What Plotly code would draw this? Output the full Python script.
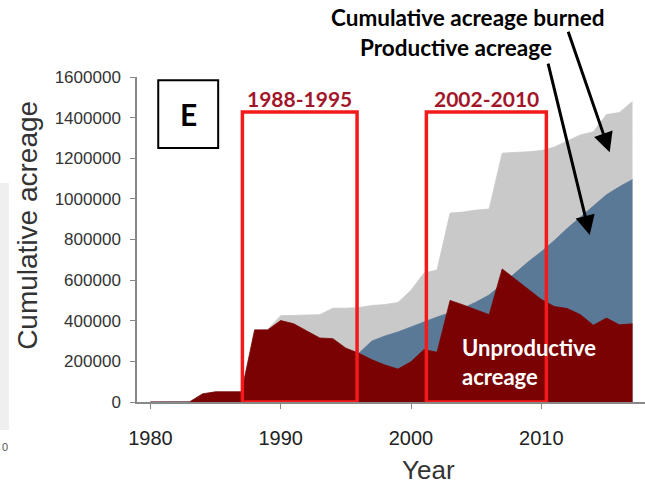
import plotly.graph_objects as go

# Annual cumulative acreage, 1980-2017
years = list(range(1980, 2018))

total_burned = [0, 0, 0, 0, 40000, 50000, 50000, 50000, 355000, 357000,
                425000, 428000, 428000, 430000, 462000, 462000, 465000, 475000, 480000, 490000,
                550000, 635000, 650000, 930000, 935000, 945000, 950000, 1225000, 1228000, 1232000,
                1238000, 1255000, 1285000, 1315000, 1330000, 1415000, 1425000, 1480000]

productive = [0, 0, 0, 0, 0, 0, 0, 0, 0, 2000,
              24000, 43000, 78000, 115000, 150000, 197000, 240000, 300000, 325000, 345000,
              370000, 395000, 418000, 440000, 462000, 492000, 527000, 580000, 635000, 690000,
              740000, 795000, 855000, 912000, 965000, 1020000, 1060000, 1095000]

unproductive = [0, 0, 0, 0, 40000, 50000, 50000, 50000, 355000, 355000,
                401000, 385000, 350000, 315000, 312000, 265000, 240000, 208000, 182000, 162000,
                198000, 258000, 245000, 500000, 478000, 455000, 430000, 655000, 605000, 555000,
                505000, 470000, 460000, 430000, 378000, 413000, 380000, 385000]

x_ticks = [1980, 1990, 2000, 2010]
periods = [(1987.06, 1995.86, "1988-1995"), (2001.18, 2010.39, "2002-2010")]

GREY = "#C9C9C9"
BLUE = "#5A7997"
MAROON = "#7A0202"
BOX_RED = "#F21A1A"
LABEL_RED = "#A3162A"
BOLD_FONT = "Lato"
AXIS_FONT = "Liberation Sans"

fig = go.Figure()
for values, colour in [(total_burned, GREY), (productive, BLUE), (unproductive, MAROON)]:
    fig.add_trace(go.Scatter(
        x=years, y=values, mode="lines", fill="tozeroy",
        line=dict(color=colour, width=0.8), fillcolor=colour,
        hoverinfo="skip", showlegend=False,
    ))

shapes = []
annotations = []

# panel letter box
shapes.append(dict(type="rect", xref="x", yref="y", x0=1980.6, x1=1985.2,
                   y0=1250000, y1=1584000, line=dict(color="black", width=2),
                   fillcolor="white"))
annotations.append(dict(x=1982.9, y=1417000, xref="x", yref="y", text="<b>E</b>",
                        showarrow=False, font=dict(family=BOLD_FONT, size=30, color="black")))

# highlighted periods
for x0, x1, label in periods:
    shapes.append(dict(type="rect", xref="x", yref="y", x0=x0, x1=x1, y0=0, y1=1428000,
                       line=dict(color=BOX_RED, width=3.5)))
    annotations.append(dict(x=(x0 + x1) / 2, y=1494000, xref="x", yref="y",
                            text="<b>%s</b>" % label, showarrow=False,
                            font=dict(family=BOLD_FONT, size=21, color=LABEL_RED)))

# series labels and arrows
annotations.append(dict(x=0.6516, y=1.1846, xref="paper", yref="paper",
                        xanchor="center", yanchor="middle",
                        text="<b>Cumulative acreage burned</b>", showarrow=False,
                        font=dict(family=BOLD_FONT, size=22.5, color="black")))
annotations.append(dict(x=0.628, y=1.0923, xref="paper", yref="paper",
                        xanchor="center", yanchor="middle",
                        text="<b>Productive acreage</b>", showarrow=False,
                        font=dict(family=BOLD_FONT, size=22.5, color="black")))
annotations.append(dict(x=2015.25, y=1230000, xref="x", yref="y", text="",
                        showarrow=True, ax=-42, ay=-122, arrowhead=2, arrowsize=1.3,
                        arrowwidth=3, arrowcolor="black"))
annotations.append(dict(x=2013.72, y=822000, xref="x", yref="y", text="",
                        showarrow=True, ax=-42, ay=-173, arrowhead=2, arrowsize=1.3,
                        arrowwidth=3, arrowcolor="black"))
annotations.append(dict(x=2003.75, y=198000, xref="x", yref="y",
                        text="<b>Unproductive<br>acreage</b>", showarrow=False,
                        xanchor="left", yanchor="middle", align="left",
                        font=dict(family=BOLD_FONT, size=22, color="white")))

# axis titles
annotations.append(dict(x=-0.2146, y=0.545, xref="paper", yref="paper",
                        xanchor="center", yanchor="middle",
                        text="Cumulative acreage", textangle=-90, showarrow=False,
                        font=dict(family=AXIS_FONT, size=28, color="#333333")))
annotations.append(dict(x=0.573, y=-0.209, xref="paper", yref="paper",
                        xanchor="center", yanchor="middle",
                        text="Year", showarrow=False,
                        font=dict(family=AXIS_FONT, size=26, color="#333333")))

# neighbouring panel edge
shapes.append(dict(type="rect", xref="paper", yref="paper", x0=-0.2697, x1=-0.252,
                   y0=-0.086, y1=0.674, line=dict(width=0), fillcolor="#EFEFEF",
                   layer="below"))
annotations.append(dict(x=-0.2697, y=-0.138, xref="paper", yref="paper", text="0",
                        xanchor="left", yanchor="middle", showarrow=False,
                        font=dict(family=AXIS_FONT, size=11, color="#555555")))

fig.update_layout(
    width=645, height=488,
    margin=dict(l=137, r=0, t=77, b=86),
    paper_bgcolor="white", plot_bgcolor="white",
    shapes=shapes, annotations=annotations,
    xaxis=dict(range=[1978.97, 2017.96], tickvals=x_ticks, ticks="outside",
               ticklen=5, tickcolor="#888888", showline=True, linecolor="#888888",
               linewidth=1.5, showgrid=False, zeroline=False, ticklabelstandoff=12,
               tickfont=dict(family=AXIS_FONT, size=20, color="#222222")),
    yaxis=dict(range=[0, 1600000], dtick=200000, tickformat="d", ticks="outside",
               ticklen=5, tickcolor="#888888", showline=True, linecolor="#888888",
               linewidth=1.5, showgrid=False, zeroline=False, ticklabelstandoff=6,
               tickfont=dict(family=AXIS_FONT, size=17, color="#333333")),
)

fig.write_html("out.html")
